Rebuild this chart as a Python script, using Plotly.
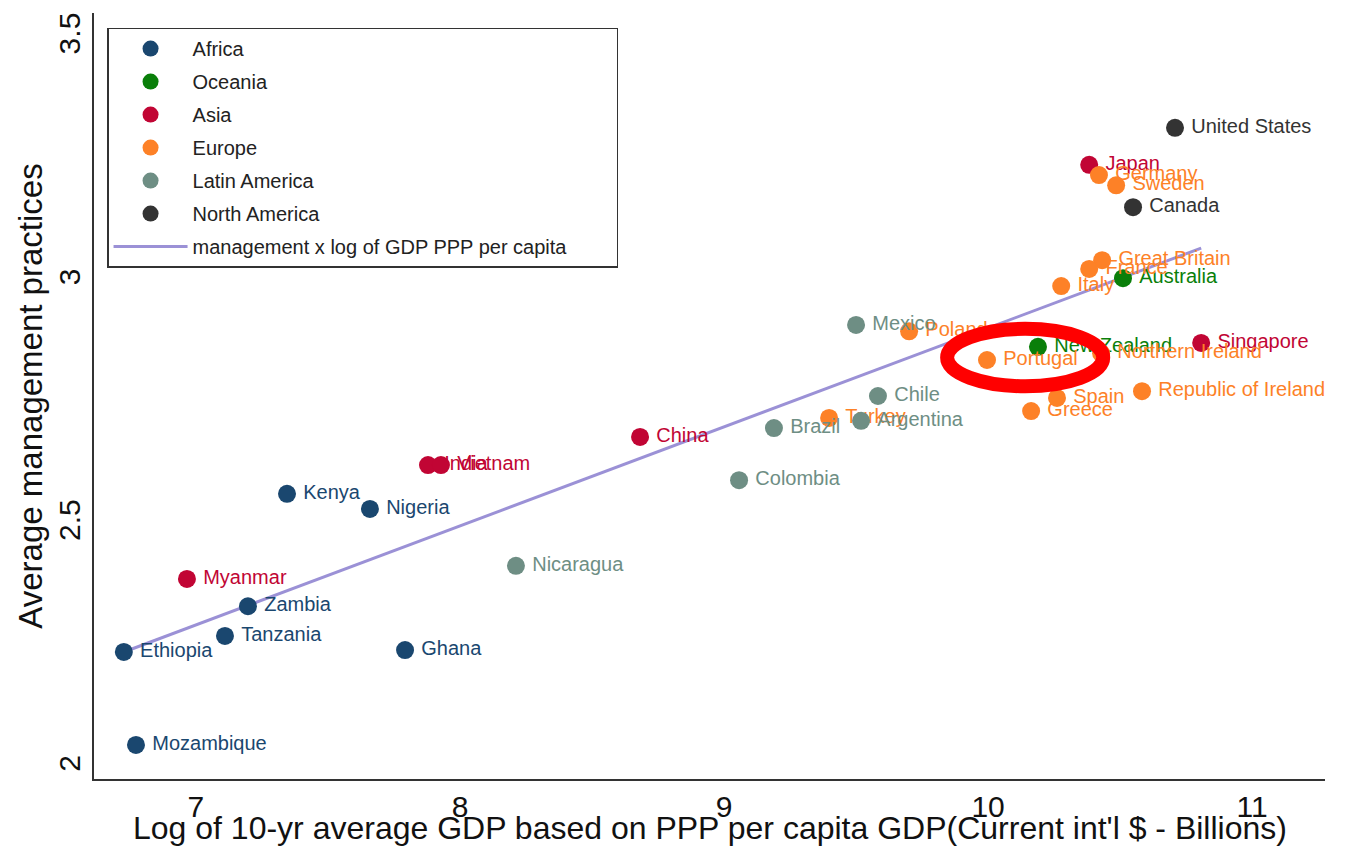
import plotly.graph_objects as go

# ---- data ----
africa_names = ["Ethiopia", "Mozambique", "Tanzania", "Zambia", "Kenya", "Nigeria", "Ghana"]
africa_x = [6.727, 6.773, 7.110, 7.197, 7.345, 7.659, 7.792]
africa_y = [2.222, 2.031, 2.255, 2.316, 2.547, 2.516, 2.226]

oceania_names = ["New Zealand", "Australia"]
oceania_x = [10.189, 10.511]
oceania_y = [2.849, 2.990]

asia_names = ["Myanmar", "India", "Vietnam", "China", "Japan", "Singapore"]
asia_x = [6.966, 7.879, 7.928, 8.682, 10.383, 10.807]
asia_y = [2.372, 2.606, 2.606, 2.664, 3.223, 2.857]

europe_names = ["Germany", "Sweden", "Great Britain", "France", "Italy", "Poland", "Portugal",
                "Northern Ireland", "Spain", "Greece", "Republic of Ireland", "Turkey"]
europe_x = [10.420, 10.485, 10.432, 10.383, 10.277, 9.701, 9.996, 10.428, 10.261, 10.163, 10.583, 9.398]
europe_y = [3.202, 3.181, 3.027, 3.009, 2.974, 2.881, 2.822, 2.836, 2.744, 2.717, 2.758, 2.703]

latam_names = ["Mexico", "Chile", "Argentina", "Brazil", "Colombia", "Nicaragua"]
latam_x = [9.500, 9.583, 9.519, 9.189, 9.057, 8.212]
latam_y = [2.894, 2.748, 2.697, 2.682, 2.575, 2.399]

namerica_names = ["United States", "Canada"]
namerica_x = [10.708, 10.549]
namerica_y = [3.299, 3.136]

# fitted line end points
fit_x = [6.727, 10.807]
fit_y = [2.222, 3.052]

groups = [
    ("Africa", africa_names, africa_x, africa_y, "#1a476f"),
    ("Oceania", oceania_names, oceania_x, oceania_y, "#0a7f0a"),
    ("Asia", asia_names, asia_x, asia_y, "#c10534"),
    ("Europe", europe_names, europe_x, europe_y, "#fd8127"),
    ("Latin America", latam_names, latam_x, latam_y, "#6e8e84"),
    ("North America", namerica_names, namerica_x, namerica_y, "#333333"),
]

plain = "Liberation Sans, Arial, sans-serif"

fig = go.Figure()

fig.add_trace(go.Scatter(
    x=fit_x, y=fit_y, mode="lines",
    line=dict(color="#9b91d6", width=3),
    name="management x log of GDP PPP per capita" + "\u00a0" * 8,
    legendgroup="fit", legendrank=1100,
))

for i, (name, labels, xs, ys, col) in enumerate(groups):
    fig.add_trace(go.Scatter(
        x=xs, y=ys, text=["\u2009" + s for s in labels], mode="markers+text",
        textposition="middle right",
        textfont=dict(family=plain, size=20, color=col),
        marker=dict(size=18, color=col),
        name=name, legendgroup=name, legendrank=1000 + i,
    ))

# red highlight ellipse
fig.add_shape(type="circle", xref="x", yref="y",
              x0=9.845, x1=10.436, y0=2.768, y1=2.886,
              line=dict(color="#ff0000", width=14))

# x axis title as annotation so it sits where the reference has it
fig.add_annotation(
    text="Log of 10-yr average GDP based on PPP per capita GDP(Current int'l $ - Billions)",
    xref="paper", yref="paper", x=0.5, y=-0.064, xanchor="center", yanchor="middle",
    showarrow=False, font=dict(family=plain, size=32, color="#111111"),
)

# page body has an 8px margin, so the figure is 16px smaller than the window
fig.update_layout(
    width=1329, height=838,
    margin=dict(l=86, r=12, t=5, b=67),
    paper_bgcolor="white", plot_bgcolor="white",
    showlegend=True,
    legend=dict(
        x=0.0106, y=0.981, xanchor="left", yanchor="top",
        bordercolor="#333333", borderwidth=1.5,
        font=dict(family=plain, size=20, color="#222222"),
        traceorder="grouped", tracegroupgap=4,
        itemwidth=74,
    ),
    xaxis=dict(
        range=[6.614, 11.276], tickvals=[7, 8, 9, 10, 11],
        showgrid=False, zeroline=False, automargin=False,
        showline=True, linecolor="#333333", linewidth=1.5,
        tickfont=dict(family=plain, size=30, color="#111111"),
    ),
    yaxis=dict(
        range=[1.961, 3.535], tickvals=[2, 2.5, 3, 3.5],
        showgrid=False, zeroline=False, automargin=False,
        showline=True, linecolor="#333333", linewidth=1.5,
        tickangle=-90, ticklabelstandoff=0, ticklabelshift=8,
        ticklabeloverflow="allow",
        tickfont=dict(family=plain, size=30, color="#111111"),
        title=dict(text="Average management practices",
                   font=dict(family=plain, size=33, color="#111111"), standoff=1),
    ),
)

fig.write_html("out.html")
